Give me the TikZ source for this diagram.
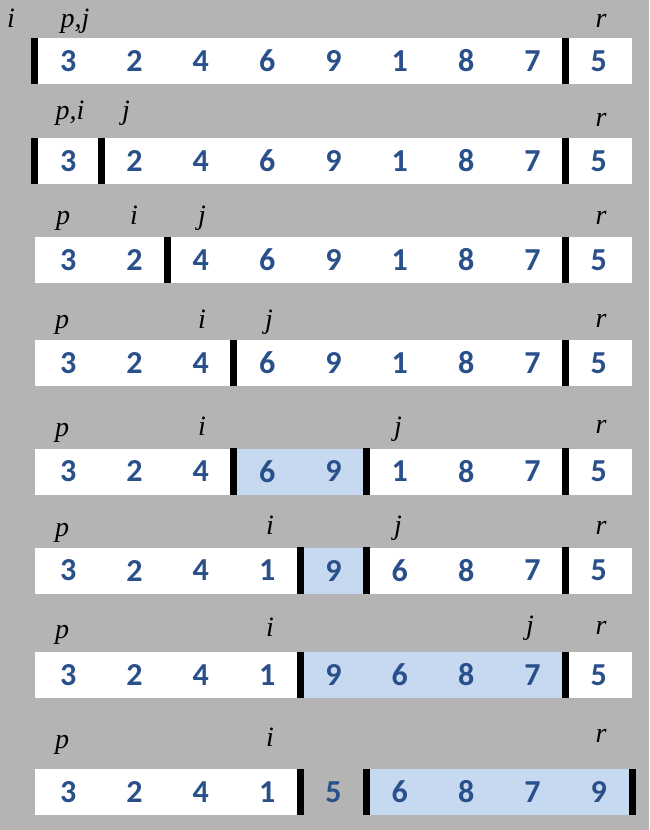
\documentclass[tikz,border=0pt]{standalone}
\usepackage{fontspec}
\newfontfamily\digitfont{Carlito}
\newfontfamily\letterfont{Liberation Serif}
\definecolor{bggray}{RGB}{180,180,180}
\definecolor{numblue}{RGB}{41,80,138}
\definecolor{hlblue}{RGB}{198,217,240}
\begin{document}
\begin{tikzpicture}[x=1pt, y=-1pt,
    w/.style ={fill=white, minimum width=66.33pt, minimum height=46pt, inner sep=0pt,
               text=numblue, font=\digitfont\bfseries\fontsize{32}{32}\selectfont},
    h/.style ={w, fill=hlblue},
    g/.style ={w, fill=none},
    bar/.style ={line width=7pt, black},
    ptr/.style ={anchor=base, inner sep=0pt, font=\letterfont\itshape\fontsize{28}{28}\selectfont}]
   \fill[bggray] (0,0) rectangle (649,830);
   \useasboundingbox (0,0) rectangle (649,830);
   % row 1
   \foreach \v/\s [count=\k] in {3/w,2/w,4/w,6/w,9/w,1/w,8/w,7/w,5/w}
      \node[\s] (a\k) at (1.83+66.33*\k, 61) {\v};
   \draw[bar] (a1.north west) -- (a1.south west);
   \draw[bar] (a9.north west) -- (a9.south west);
   \node[ptr] (ai) at (11,27) {i};
   \node[ptr] (apj) at (75,27) {p,j};
   \node[ptr] (ar) at (601,27) {r};
   % row 2
   \foreach \v/\s [count=\k] in {3/w,2/w,4/w,6/w,9/w,1/w,8/w,7/w,5/w}
      \node[\s] (b\k) at (1.83+66.33*\k, 161) {\v};
   \draw[bar] (b1.north west) -- (b1.south west);
   \draw[bar] (b2.north west) -- (b2.south west);
   \draw[bar] (b9.north west) -- (b9.south west);
   \node[ptr] (bpi) at (70,119) {p,i};
   \node[ptr] (bj) at (126,119) {j};
   \node[ptr] (br) at (601,126) {r};
   % row 3
   \foreach \v/\s [count=\k] in {3/w,2/w,4/w,6/w,9/w,1/w,8/w,7/w,5/w}
      \node[\s] (c\k) at (1.83+66.33*\k, 260) {\v};
   \draw[bar] (c3.north west) -- (c3.south west);
   \draw[bar] (c9.north west) -- (c9.south west);
   \node[ptr] (cp) at (63,224) {p};
   \node[ptr] (ci) at (134,224) {i};
   \node[ptr] (cj) at (202,224) {j};
   \node[ptr] (cr) at (601,224) {r};
   % row 4
   \foreach \v/\s [count=\k] in {3/w,2/w,4/w,6/w,9/w,1/w,8/w,7/w,5/w}
      \node[\s] (d\k) at (1.83+66.33*\k, 363) {\v};
   \draw[bar] (d4.north west) -- (d4.south west);
   \draw[bar] (d9.north west) -- (d9.south west);
   \node[ptr] (dp) at (62,328) {p};
   \node[ptr] (di) at (202,328) {i};
   \node[ptr] (dj) at (269,328) {j};
   \node[ptr] (dr) at (601,327) {r};
   % row 5
   \foreach \v/\s [count=\k] in {3/w,2/w,4/w,6/h,9/h,1/w,8/w,7/w,5/w}
      \node[\s] (e\k) at (1.83+66.33*\k, 471.5) {\v};
   \draw[bar] (e4.north west) -- (e4.south west);
   \draw[bar] (e6.north west) -- (e6.south west);
   \draw[bar] (e9.north west) -- (e9.south west);
   \node[ptr] (ep) at (62,436) {p};
   \node[ptr] (ei) at (202,435) {i};
   \node[ptr] (ej) at (398,435) {j};
   \node[ptr] (er) at (601,433) {r};
   % row 6
   \foreach \v/\s [count=\k] in {3/w,2/w,4/w,1/w,9/h,6/w,8/w,7/w,5/w}
      \node[\s] (f\k) at (1.83+66.33*\k, 570.5) {\v};
   \draw[bar] (f5.north west) -- (f5.south west);
   \draw[bar] (f6.north west) -- (f6.south west);
   \draw[bar] (f9.north west) -- (f9.south west);
   \node[ptr] (fp) at (62,536) {p};
   \node[ptr] (fi) at (270,534) {i};
   \node[ptr] (fj) at (398,534) {j};
   \node[ptr] (fr) at (601,534) {r};
   % row 7
   \foreach \v/\s [count=\k] in {3/w,2/w,4/w,1/w,9/h,6/h,8/h,7/h,5/w}
      \node[\s] (g\k) at (1.83+66.33*\k, 675) {\v};
   \draw[bar] (g5.north west) -- (g5.south west);
   \draw[bar] (g9.north west) -- (g9.south west);
   \node[ptr] (gp) at (62,638) {p};
   \node[ptr] (gi) at (270,636) {i};
   \node[ptr] (gj) at (530,634) {j};
   \node[ptr] (gr) at (601,634) {r};
   % row 8
   \foreach \v/\s [count=\k] in {3/w,2/w,4/w,1/w,5/g,6/h,8/h,7/h,9/h}
      \node[\s] (h\k) at (1.83+66.33*\k, 792) {\v};
   \draw[bar] (h5.north west) -- (h5.south west);
   \draw[bar] (h6.north west) -- (h6.south west);
   \draw[bar] (h9.north east) -- (h9.south east);
   \node[ptr] (hp) at (62,748) {p};
   \node[ptr] (hi) at (270,746) {i};
   \node[ptr] (hr) at (601,742) {r};
\end{tikzpicture}
\end{document}
